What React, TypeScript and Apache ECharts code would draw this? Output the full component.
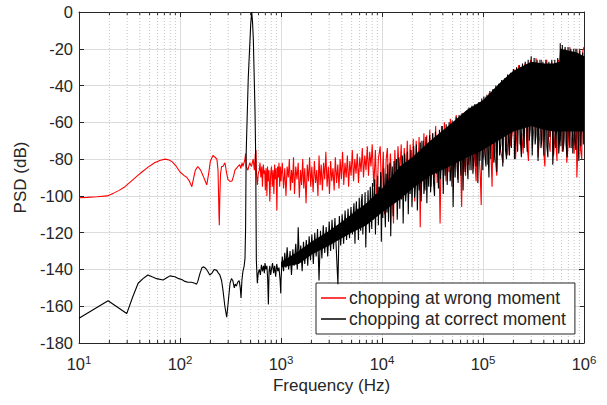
import React, { useEffect, useRef } from "react";
import * as echarts from "echarts";

const FONT = "'Liberation Sans', Arial, Helvetica, sans-serif";
const TXT = "#262626";

const X_MIN = 10;
const X_MAX = 1000000;
const Y_MIN = -180;
const Y_MAX = 0;
const Y_STEP = 20;

const SERIES_NAMES = ["chopping at wrong moment", "chopping at correct moment"];

const minorFreqs = [
  20, 30, 40, 50, 60, 70, 80, 90,
  200, 300, 400, 500, 600, 700, 800, 900,
  2000, 3000, 4000, 5000, 6000, 7000, 8000, 9000,
  20000, 30000, 40000, 50000, 60000, 70000, 80000, 90000,
  200000, 300000, 400000, 500000, 600000, 700000, 800000, 900000,
];

// ---------- red: chopping at wrong moment ----------
const redLow: [number, number][] = [
  [10, -101], [12, -100.8], [15, -100.5], [19, -100], [22, -98.5], [25, -97], [28.5, -95],
  [33, -92], [38, -89], [42, -87], [48, -84.5], [56, -82], [63, -80.8], [71, -80], [78, -80.5],
  [84, -81.5], [92, -84], [100, -87], [110, -89], [117, -90], [124, -92], [131, -95], [138, -89],
  [142, -86], [150, -84], [160, -86], [169, -89], [178, -92], [184, -94], [192, -88], [200, -81],
  [212, -78], [222, -79], [232, -80], [238, -86], [241, -100], [243, -110], [245, -116], [248, -100],
  [252, -88], [258, -84], [266, -84], [279, -82], [288, -87], [298, -91], [310, -92], [327, -92],
  [340, -89], [350, -86], [362, -85], [375, -84], [390, -83], [400, -85], [412, -82], [420, -84],
  [430, -82], [440, -80], [446, -77], [452, -84], [470, -86], [490, -82], [510, -84], [530, -80],
  [545, -86], [556, -78], [565, -75], [572, -88],
];

const redMid: [number, number][] = [
  [583, -94], [595, -88], [610, -86], [620, -82], [632, -90], [645, -84], [655, -95], [668, -83],
  [680, -88], [690, -86], [700, -97], [712, -85], [725, -100], [735, -84], [748, -92], [760, -86],
  [775, -103], [790, -88], [805, -84], [820, -95], [835, -86], [850, -99], [865, -83], [880, -91],
  [895, -85], [910, -108], [925, -84], [940, -90], [955, -82], [970, -95], [985, -84], [1000, -92],
  [1030, -82], [1060, -96], [1090, -85], [1120, -100], [1150, -84], [1180, -90], [1210, -80],
  [1240, -97], [1270, -86], [1300, -93], [1330, -79], [1360, -99], [1400, -84], [1440, -91],
  [1480, -82], [1520, -101], [1560, -86], [1600, -94], [1640, -80], [1680, -96], [1720, -85],
  [1770, -104], [1820, -83], [1870, -92], [1920, -79], [1970, -95], [2020, -84], [2080, -98],
  [2140, -81], [2200, -93], [2260, -86], [2320, -100], [2380, -78], [2440, -94], [2500, -83],
  [2570, -97], [2640, -82], [2710, -91], [2780, -76], [2860, -95], [2940, -84], [3020, -99],
  [3100, -81], [3180, -92], [3270, -85], [3360, -97], [3450, -79], [3550, -93], [3650, -83],
  [3750, -96], [3850, -80], [3960, -91], [4070, -76], [4180, -94], [4300, -82], [4420, -90],
  [4540, -78], [4670, -95], [4800, -81], [4940, -89], [5080, -75], [5230, -92], [5380, -80],
  [5530, -88], [5690, -77], [5850, -93], [6020, -79], [6200, -87], [6380, -74], [6560, -90],
  [6750, -78], [6950, -86], [7150, -73], [7350, -89], [7560, -76], [7780, -84], [8000, -72],
];

const redHigh: [number, number][] = [
  [8300, -95], [8600, -75], [8900, -104], [9200, -80], [9600, -73], [9900, -98], [10300, -76],
  [10600, -110], [11000, -80], [11300, -74], [11700, -100], [12100, -77], [12500, -92], [13000, -115],
  [13400, -75], [13900, -96], [14400, -73], [14900, -90], [15500, -72], [16000, -101], [16600, -74],
  [17200, -93], [17800, -70], [18400, -99], [19000, -72], [19700, -95], [20400, -69], [21100, -103],
  [21800, -70], [22600, -90], [23300, -68], [23900, -117], [24500, -70], [25200, -92], [26000, -66],
  [26800, -97], [27700, -67], [28700, -88], [29700, -64], [30700, -95], [31800, -66], [32900, -90],
  [34000, -62], [35200, -93], [36400, -70], [37600, -115], [38800, -62], [40000, -85], [41500, -60],
  [43000, -92], [44500, -64], [46000, -87], [47500, -58], [49000, -95], [50700, -60], [52500, -84],
  [54300, -56], [56200, -91], [58100, -60], [60000, -82], [61500, -106], [63200, -55], [65000, -80],
  [67200, -89], [69500, -54], [72000, -83], [74500, -58], [77200, -86], [80000, -52], [82700, -80],
  [85500, -92], [88500, -50], [91500, -78], [93800, -88], [96000, -105], [98000, -48], [100000, -80],
  [103500, -75], [107000, -46], [111000, -83], [115000, -44], [119000, -72], [123000, -95],
  [127000, -42], [131000, -77], [137000, -89], [141000, -40], [145000, -70], [150000, -76],
  [158000, -82], [164000, -37], [170000, -69], [176000, -78], [182000, -34], [188000, -73],
  [195000, -65], [202000, -31], [210000, -80], [218000, -61], [225000, -29], [232000, -72],
  [241000, -66], [250000, -77], [260000, -28], [270000, -70], [282000, -81], [295000, -26],
  [308000, -74], [320000, -62], [335000, -25], [350000, -79], [365000, -67], [380000, -26],
  [395000, -73], [410000, -84], [428000, -26], [445000, -69], [462000, -76], [480000, -27],
  [500000, -78], [520000, -64], [540000, -81], [556000, -26], [570000, -70], [590000, -20],
  [610000, -76], [630000, -68], [650000, -20], [675000, -82], [700000, -71], [725000, -19],
  [750000, -74], [775000, -66], [800000, -77], [825000, -20], [850000, -90], [875000, -70],
  [900000, -20], [925000, -75], [950000, -80], [975000, -21], [1000000, -19],
];

// ---------- black: chopping at correct moment ----------
const blackLow: [number, number][] = [
  [10, -166.5], [19.4, -157], [29.7, -164], [34, -155], [38.5, -147.5], [43, -145], [48, -143],
  [53, -144], [58.7, -145], [68, -145.7], [74, -144.5], [79.5, -143.5], [89, -144], [97, -145],
  [104, -145.5], [112, -146.5], [120, -147], [130, -147], [140, -147.5], [146, -148], [150, -146.5],
  [158, -142], [165, -139], [172, -138.6], [180, -139.5], [188, -141], [197, -143], [207, -142],
  [218, -140], [231, -140.5], [240, -142], [248, -143], [258, -146], [266, -151], [278, -160],
  [290, -166], [300, -158], [313, -147.5], [323, -145], [333, -146], [345, -150], [352, -148],
  [362, -149], [372, -147], [385, -146], [395, -150], [402, -155.5], [410, -146], [420, -141],
  [432, -138], [440, -134], [446, -118], [452, -77], [474, -36], [501, -7], [513, 0], [522, -5],
  [532, -14.5], [553, -54], [562, -80], [566, -110], [570, -135], [583, -147.5], [595, -142],
  [610, -140], [625, -143], [640, -137.5], [655, -141], [670, -138], [684, -142], [694, -136.5],
  [710, -140], [725, -138], [738, -145], [750, -159], [762, -141], [775, -138], [790, -143],
  [805, -140], [825, -136.5], [845, -142], [865, -138], [885, -144], [907, -137], [930, -141],
  [955, -139], [980, -146], [995, -153],
];

const blackNoiseLow: [number, number][] = [
  [1000, -146], [1030, -133], [1060, -141], [1090, -131], [1120, -139], [1150, -128], [1190, -140],
  [1230, -130], [1270, -143], [1310, -129], [1350, -138], [1400, -126], [1450, -140], [1480, -117],
  [1520, -136], [1570, -127], [1620, -141], [1670, -125], [1720, -137], [1780, -124], [1840, -138],
  [1900, -122], [1960, -135], [2020, -121], [2090, -137], [2160, -120], [2230, -133], [2300, -118],
  [2380, -146], [2460, -119], [2540, -134], [2620, -116], [2710, -131], [2800, -117], [2900, -133],
  [3000, -114], [3100, -130], [3200, -113], [3310, -129], [3420, -112], [3540, -131], [3660, -148],
  [3780, -111], [3900, -127], [4030, -110], [4170, -126], [4310, -108], [4460, -124], [4610, -107],
  [4770, -123], [4930, -106],
];

const blackNoiseHigh: [number, number][] = [
  [5100, -121], [5200, -109], [5280, -104], [5400, -126], [5460, -112], [5580, -103], [5650, -118],
  [5760, -107], [5840, -124], [5950, -101], [6040, -114], [6150, -119], [6250, -103], [6360, -99],
  [6460, -121], [6580, -108], [6680, -116], [6800, -98], [6910, -128], [7030, -104], [7150, -115],
  [7270, -97], [7400, -110], [7520, -120], [7650, -95], [7780, -107], [7920, -118], [8050, -93],
  [8190, -113], [8330, -102], [8470, -91], [8610, -121], [8760, -99], [8910, -110], [9060, -89],
  [9210, -116], [9370, -95], [9530, -107], [9700, -87], [9850, -125], [10000, -98], [10200, -112],
  [10400, -85], [10600, -104], [10800, -117], [11000, -88], [11200, -109], [11400, -83], [11600, -114],
  [11800, -95], [12000, -82], [12200, -122], [12400, -100], [12650, -84], [12900, -111], [13150, -81],
  [13400, -104], [13650, -92], [13900, -80], [14150, -113], [14400, -98], [14700, -79], [15000, -107],
  [15300, -86], [15600, -102], [15900, -78], [16200, -115], [16500, -90], [16800, -77], [17150, -103],
  [17500, -95], [17850, -76], [18200, -110], [18600, -84], [19000, -99], [19400, -75], [19800, -106],
  [20200, -88], [20600, -73], [21000, -101], [21500, -93], [21900, -72], [22400, -108], [22900, -79],
  [23400, -97], [23900, -71], [24400, -103], [24900, -85], [25500, -70], [26000, -99], [26600, -92],
  [27200, -68], [27800, -104], [28400, -77], [29000, -95], [29600, -67], [30300, -98], [31000, -83],
  [31700, -66], [32400, -93], [33100, -100], [33800, -65], [34600, -88], [35400, -73], [36200, -96],
  [37000, -64], [37800, -91], [38600, -82], [39500, -62], [40400, -99], [41300, -70], [42200, -89],
  [43200, -61], [44200, -94], [45200, -79], [46200, -60], [47300, -92], [48400, -86], [49500, -59],
  [50600, -106], [51800, -68], [53000, -90], [54200, -57], [55400, -84], [56700, -93], [58000, -56],
  [59300, -80], [60600, -89], [62000, -55], [63500, -97], [65000, -63], [66500, -87], [68000, -54],
  [69500, -82], [71000, -91], [72600, -52], [74300, -86], [76000, -72], [77700, -51], [79500, -88],
  [81300, -79], [83100, -50], [85000, -84], [87000, -62], [89000, -93], [91000, -49], [93000, -81],
  [95000, -70], [97300, -47], [99600, -86], [102000, -46], [104500, -78], [107000, -84], [109500, -45],
  [112000, -74], [114500, -90], [117000, -43], [119500, -80], [122000, -58], [125000, -42],
  [128000, -82], [131000, -76], [134000, -40], [137000, -87], [140000, -66], [143000, -39],
  [146000, -78], [150000, -72], [153000, -37], [157000, -84], [160000, -52], [164000, -36],
  [167000, -75], [171000, -80], [175000, -34], [179000, -70], [183000, -78], [187000, -33],
  [191000, -74], [195000, -48], [200000, -31], [205000, -80], [210000, -69], [215000, -30],
  [220000, -76], [225000, -55], [230000, -29], [235000, -71], [240000, -79], [246000, -28],
  [251000, -67], [256000, -74], [262000, -27], [268000, -45], [274000, -76], [280000, -26],
  [287000, -70], [293000, -64], [300000, -24], [307000, -78], [314000, -50], [321000, -25],
  [328000, -72], [335000, -67], [343000, -26], [351000, -81], [359000, -42], [367000, -26],
  [375000, -74], [383000, -69], [392000, -27], [401000, -78], [410000, -58], [419000, -26],
  [429000, -73], [439000, -79], [449000, -27], [459000, -68], [470000, -47], [480000, -26],
  [491000, -83], [502000, -71], [514000, -26], [525000, -74], [537000, -62], [549000, -25],
  [562000, -77], [575000, -69], [582000, -17], [591000, -73], [600000, -50], [610000, -18],
  [620000, -76], [635000, -70], [650000, -19], [665000, -72], [680000, -79], [695000, -19],
  [710000, -66], [725000, -74], [740000, -20], [757000, -46], [775000, -77], [792000, -20],
  [810000, -70], [830000, -75], [850000, -20], [870000, -68], [890000, -81], [910000, -21],
  [930000, -73], [950000, -58], [970000, -22], [985000, -72], [1000000, -24],
];

const blackBandFreq = [1000, 1500, 2000, 3000, 4000, 5000, 7000, 10000, 15000, 20000, 30000, 50000, 70000, 100000, 150000, 200000, 300000, 400000, 500000, 570000, 580000, 700000, 850000, 1000000];
const blackBandUpper = [-136, -130, -125, -119, -114, -110, -104, -96, -84, -79, -70, -60, -53, -48, -38, -32, -27, -28, -28, -27, -20, -21, -22, -24];
const blackBandLower = [-139, -137, -132, -127, -123, -120, -116, -109, -102, -96, -89, -83, -79, -75, -69, -65, -62, -64, -65, -65, -65, -65, -65, -65];

function bandRenderer(freqs: number[], upper: number[], lower: number[], color: string) {
  return (_params: any, api: any) => {
    const pts: number[][] = [];
    for (let i = 0; i < freqs.length; i++) pts.push(api.coord([freqs[i], upper[i]]));
    for (let i = freqs.length - 1; i >= 0; i--) pts.push(api.coord([freqs[i], lower[i]]));
    return { type: "polygon", shape: { points: pts }, style: { fill: color }, silent: true };
  };
}

export default function App() {
  const ref = useRef<HTMLDivElement>(null);
  useEffect(() => {
    if (!ref.current) return;
    const chart = echarts.init(ref.current, undefined, { renderer: "svg" });

    const xAxisBase = {
      type: "log",
      logBase: 10,
      min: X_MIN,
      max: X_MAX,
      axisLine: { show: true, onZero: false, lineStyle: { color: TXT, width: 1 } },
      axisTick: { show: true, inside: true, length: 5, lineStyle: { color: TXT } },
    };
    const yAxisBase = {
      type: "value",
      min: Y_MIN,
      max: Y_MAX,
      interval: Y_STEP,
      axisLine: { show: true, onZero: false, lineStyle: { color: TXT, width: 1 } },
      axisTick: { show: true, inside: true, length: 5, lineStyle: { color: TXT } },
    };

    chart.setOption({
      animation: false,
      backgroundColor: "#ffffff",
      grid: { left: 79, right: 23, top: 12, bottom: 62, containLabel: false },
      legend: {
        data: SERIES_NAMES,
        orient: "vertical",
        left: 316,
        top: 283,
        padding: [5, 9, 5, 5],
        itemGap: 1,
        itemWidth: 25,
        itemHeight: 1.5,
        icon: "rect",
        backgroundColor: "#ffffff",
        borderColor: TXT,
        borderWidth: 1,
        borderRadius: 0,
        textStyle: { fontFamily: FONT, fontSize: 17.5, color: TXT, lineHeight: 20, padding: [0, 0, 0, -2] },
      },
      xAxis: [
        {
          ...xAxisBase,
          position: "bottom",
          name: "Frequency (Hz)",
          nameLocation: "middle",
          nameGap: 33,
          nameTextStyle: { fontFamily: FONT, fontSize: 17, color: TXT },
          axisLabel: {
            show: true,
            margin: 11,
            showMinLabel: true,
            showMaxLabel: true,
            formatter: (v: number) => `{b|10}{s|${Math.round(Math.log10(v))}}`,
            rich: {
              b: { fontFamily: FONT, fontSize: 16.5, color: TXT, lineHeight: 20, verticalAlign: "middle" },
              s: { fontFamily: FONT, fontSize: 11.5, color: TXT, lineHeight: 12, verticalAlign: "top" },
            },
          },
          splitLine: { show: true, lineStyle: { color: "#dcdcdc", width: 1 } },
        },
        {
          ...xAxisBase,
          position: "top",
          axisLabel: { show: false },
          splitLine: { show: false },
        },
      ],
      yAxis: [
        {
          ...yAxisBase,
          position: "left",
          name: "PSD (dB)",
          nameLocation: "middle",
          nameGap: 46,
          nameRotate: 90,
          nameTextStyle: { fontFamily: FONT, fontSize: 17, color: TXT },
          axisLabel: { margin: 6, fontFamily: FONT, fontSize: 16.5, color: TXT },
          splitLine: { show: true, lineStyle: { color: "#dcdcdc", width: 1 } },
        },
        {
          ...yAxisBase,
          position: "right",
          axisLabel: { show: false },
          splitLine: { show: false },
        },
      ],
      series: [
        {
          type: "custom",
          name: "minor",
          xAxisIndex: 0,
          yAxisIndex: 0,
          silent: true,
          z: 1,
          data: minorFreqs.map((f) => [f, Y_MIN]),
          encode: { x: 0, y: 1 },
          renderItem: (_p: any, api: any) => {
            const f = api.value(0);
            const top = api.coord([f, Y_MAX]);
            const bot = api.coord([f, Y_MIN]);
            return {
              type: "group",
              children: [
                {
                  type: "line",
                  shape: { x1: bot[0], y1: bot[1], x2: top[0], y2: top[1] },
                  style: { stroke: "#c4c4c4", lineWidth: 1, lineDash: [1, 2] },
                },
                {
                  type: "line",
                  shape: { x1: bot[0], y1: bot[1], x2: bot[0], y2: bot[1] - 3 },
                  style: { stroke: TXT, lineWidth: 1 },
                },
                {
                  type: "line",
                  shape: { x1: top[0], y1: top[1], x2: top[0], y2: top[1] + 3 },
                  style: { stroke: TXT, lineWidth: 1 },
                },
              ],
            };
          },
        },
        {
          type: "line",
          name: SERIES_NAMES[0],
          xAxisIndex: 0,
          yAxisIndex: 0,
          z: 3,
          data: [...redLow, ...redMid, ...redHigh],
          showSymbol: false,
          symbol: "none",
          color: "#ff0000",
          lineStyle: { color: "#ff0000", width: 1.1 },
        },
        {
          type: "custom",
          name: "blackBand",
          xAxisIndex: 0,
          yAxisIndex: 0,
          silent: true,
          z: 4,
          data: [[blackBandFreq[0], blackBandUpper[0]]],
          encode: { x: 0, y: 1 },
          renderItem: bandRenderer(blackBandFreq, blackBandUpper, blackBandLower, "#000000"),
        },
        {
          type: "line",
          name: SERIES_NAMES[1],
          xAxisIndex: 0,
          yAxisIndex: 0,
          z: 5,
          data: [...blackLow, ...blackNoiseLow, ...blackNoiseHigh],
          showSymbol: false,
          symbol: "none",
          color: "#000000",
          lineStyle: { color: "#000000", width: 1.1 },
        },
      ],
    });
    return () => chart.dispose();
  }, []);
  return (
    <div
      ref={ref}
      style={{ position: "absolute", left: 0, top: 0, width: 607, height: 405 }}
    />
  );
}
